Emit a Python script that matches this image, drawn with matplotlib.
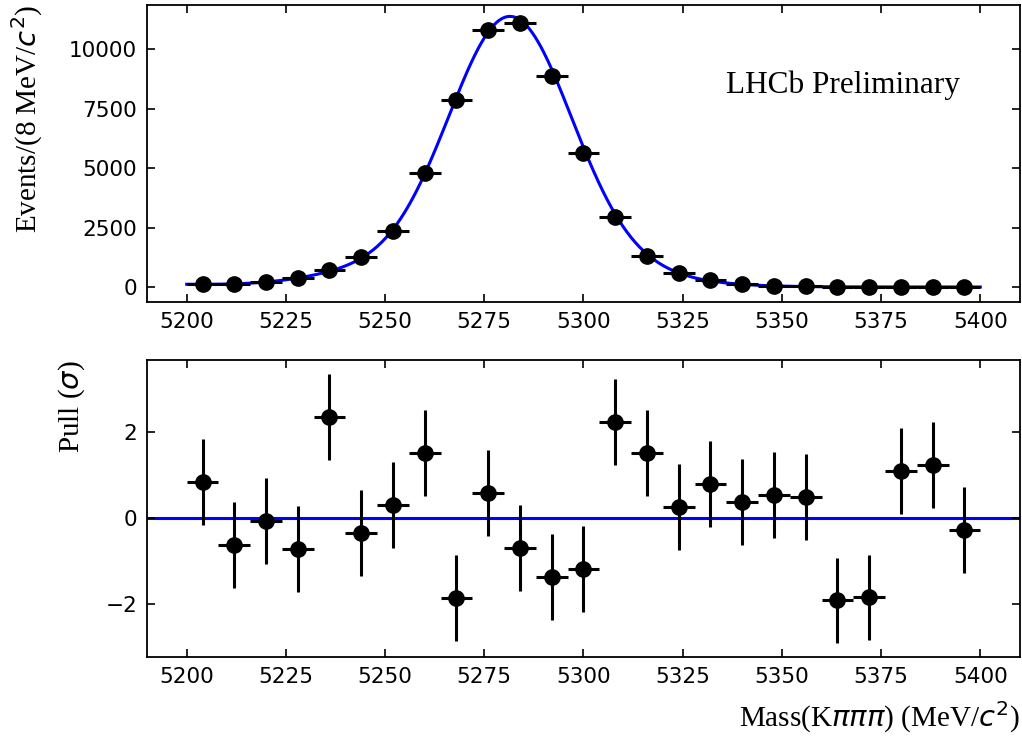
import numpy as np
import matplotlib.pyplot as plt

# bin centres (8 MeV bins) and contents
mass_bins = [5204, 5212, 5220, 5228, 5236, 5244, 5252, 5260, 5268, 5276, 5284, 5292, 5300,
             5308, 5316, 5324, 5332, 5340, 5348, 5356, 5364, 5372, 5380, 5388, 5396]
counts = [120, 120, 220, 370, 710, 1250, 2370, 4800, 7860, 10800, 11110, 8870, 5620,
          2950, 1300, 580, 290, 130, 60, 50, 5, 5, 14, 14, 4]
pulls = [0.84, -0.63, -0.07, -0.72, 2.36, -0.35, 0.30, 1.52, -1.87, 0.58, -0.70, -1.38, -1.19,
         2.25, 1.52, 0.26, 0.80, 0.37, 0.54, 0.49, -1.92, -1.85, 1.10, 1.24, -0.28]
half_bin = 4

# fit curve parameters (estimated from the drawn curve)
fit_mean = 5281.5
sigma_core, amp_core = 15.0, 9350.0
sigma_wide, amp_wide = 24.0, 2000.0
tail_mean, tail_sigma, tail_amp = 5238.0, 12.0, 190.0
bkg_amp, bkg_slope = 110.0, 50.0

m = np.linspace(5200, 5400, 801)
fit = (amp_core * np.exp(-0.5 * ((m - fit_mean) / sigma_core) ** 2)
       + amp_wide * np.exp(-0.5 * ((m - fit_mean) / sigma_wide) ** 2)
       + tail_amp * np.exp(-0.5 * ((m - tail_mean) / tail_sigma) ** 2)
       + bkg_amp * np.exp(-(m - 5200) / bkg_slope))

serif = 'Liberation Serif'

fig, (ax1, ax2) = plt.subplots(2, 1, figsize=(10.22, 7.36), dpi=100)
fig.subplots_adjust(left=0.1438, right=0.998, top=0.9932, bottom=0.1073, hspace=0.195)

# top: mass fit
ax1.plot(m, fit, color='#0000ff', lw=2.2, zorder=2)
ax1.errorbar(mass_bins, counts, xerr=half_bin, yerr=np.sqrt(counts), fmt='o', color='k',
             ms=11, elinewidth=2.2, capsize=0, zorder=3)
ax1.set_xlim(5190, 5410)
ax1.set_ylim(-630, 11850)
ax1.set_yticks([0, 2500, 5000, 7500, 10000])
ax1.set_ylabel('Events/(8 MeV/$c^2$)', fontsize=21, family=serif, loc='top', labelpad=17.5)
ax1.text(5336, 8490, 'LHCb Preliminary', fontsize=22.5, family=serif, ha='left', va='center')

# bottom: pulls
ax2.axhline(0, color='#0000ff', lw=2.2, zorder=1)
ax2.errorbar(mass_bins, pulls, xerr=half_bin, yerr=1, fmt='o', color='k',
             ms=11, elinewidth=2.2, capsize=0, zorder=3)
ax2.set_xlim(5190, 5410)
ax2.set_ylim(-3.24, 3.69)
ax2.set_yticks([-2, 0, 2])
ax2.set_ylabel(r'Pull ($\sigma$)', fontsize=21, family=serif, loc='top', labelpad=13)
ax2.set_xlabel(r'Mass(K$\pi\pi\pi$) (MeV/$c^2$)', fontsize=21, family=serif, loc='right', labelpad=9)

for ax in (ax1, ax2):
    ax.set_xticks([5200, 5225, 5250, 5275, 5300, 5325, 5350, 5375, 5400])
    ax.tick_params(direction='in', top=True, right=True, length=6, width=1.2,
                   labelsize=15.5, pad=7)
    for s in ax.spines.values():
        s.set_linewidth(1.3)

plt.savefig('out.png', dpi=100)
